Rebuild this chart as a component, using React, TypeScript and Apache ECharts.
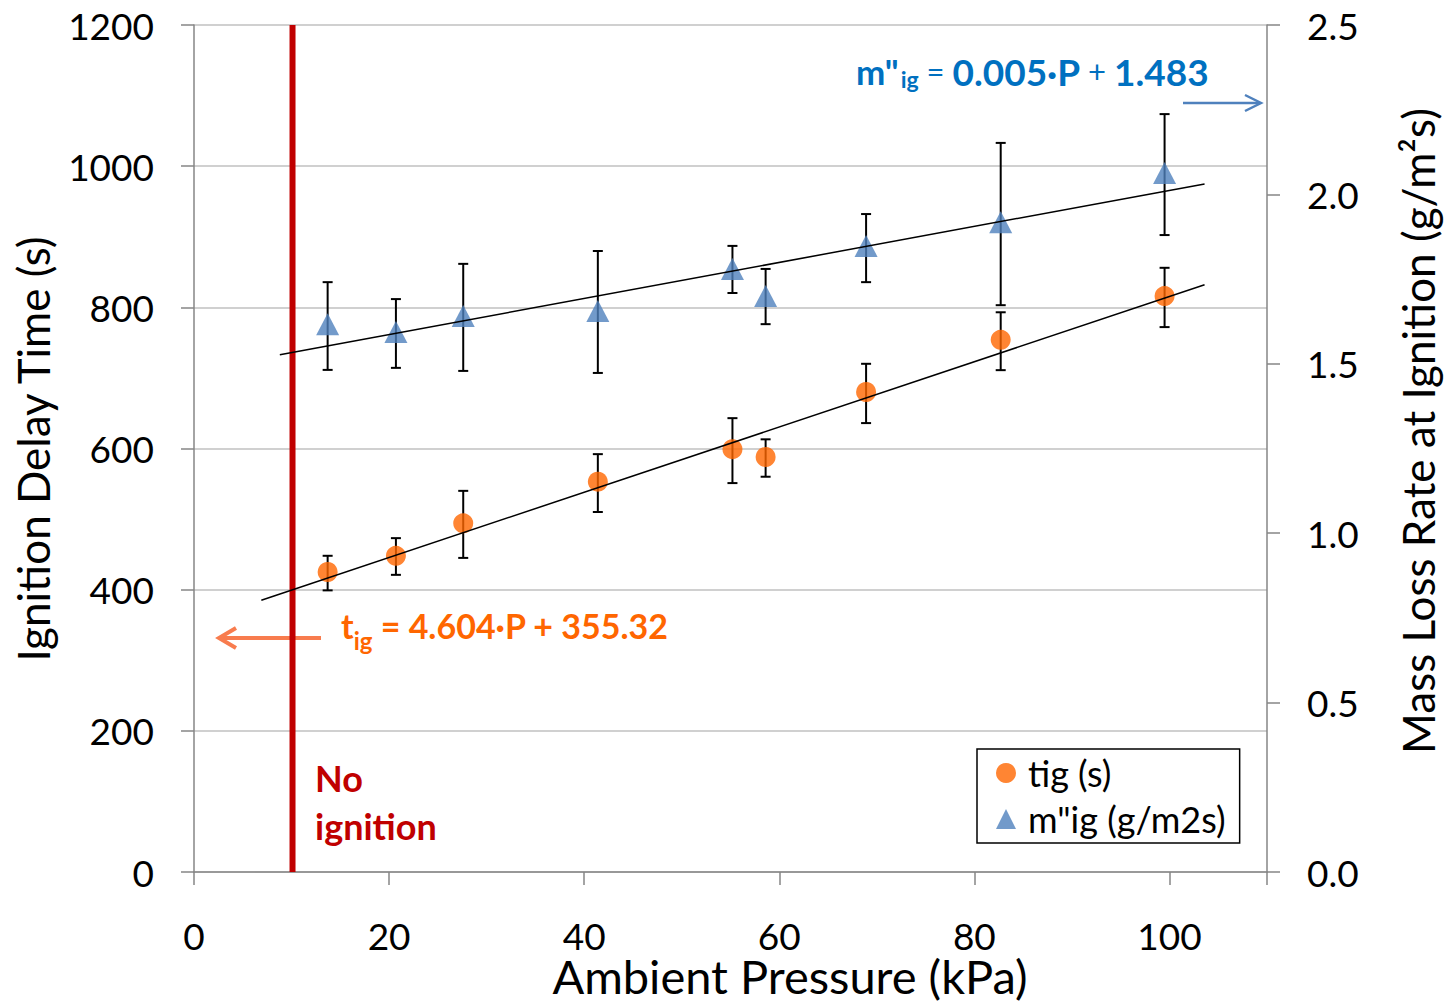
import React, { useEffect, useRef } from "react";
import * as echarts from "echarts";

// ---- data ----
const pressure = [13.7, 20.7, 27.6, 41.4, 55.2, 58.6, 68.9, 82.7, 99.5];
const tig = [425, 448, 494, 553, 599, 588, 680, 754, 816];
const tigLow = [399, 421, 445, 510, 551, 560, 636, 711, 772];
const tigHigh = [448, 473, 540, 592, 643, 613, 720, 793, 856];
const mig = [1.617, 1.594, 1.641, 1.656, 1.78, 1.7, 1.848, 1.918, 2.063];
const migLow = [1.482, 1.488, 1.479, 1.473, 1.709, 1.617, 1.741, 1.673, 1.88];
const migHigh = [1.741, 1.691, 1.795, 1.833, 1.848, 1.78, 1.942, 2.152, 2.237];
const tigTrendP = [6.9, 103.6];
const tigTrendV = [385, 832];
const migTrendP = [8.8, 103.6];
const migTrendV = [1.527, 2.031];
const noIgnitionP = [10.1, 10.1];
const noIgnitionV = [0, 1200];

const FONT = "Lato";

function errorBarRender(params: any, api: any) {
  const x = api.value(0);
  const lo = api.coord([x, api.value(1)]);
  const hi = api.coord([x, api.value(2)]);
  const w = 5;
  const st = { stroke: "#000", lineWidth: 2 };
  return {
    type: "group",
    children: [
      { type: "line", shape: { x1: lo[0], y1: lo[1], x2: hi[0], y2: hi[1] }, style: st },
      { type: "line", shape: { x1: lo[0] - w, y1: lo[1], x2: lo[0] + w, y2: lo[1] }, style: st },
      { type: "line", shape: { x1: hi[0] - w, y1: hi[1], x2: hi[0] + w, y2: hi[1] }, style: st },
    ],
  };
}

export default function App() {
  const ref = useRef<HTMLDivElement>(null);
  useEffect(() => {
    if (!ref.current) return;
    const chart = echarts.init(ref.current, undefined, { renderer: "svg" });
    const axisLineStyle = { color: "#868686", width: 1.5 };
    const option: any = {
      animation: false,
      backgroundColor: "#fff",
      grid: { left: 194, top: 25, right: 178, bottom: 129, containLabel: false },
      xAxis: {
        type: "value",
        min: 0,
        max: 110,
        interval: 20,
        axisLine: { show: true, lineStyle: axisLineStyle, onZero: false },
        axisTick: { show: true, length: 13, lineStyle: axisLineStyle },
        splitLine: { show: false },
        axisLabel: {
          margin: 45,
          fontFamily: FONT,
          fontSize: 37,
          color: "#000",
          formatter: (v: number) => (v > 100 ? "" : String(v)),
        },
      },
      yAxis: [
        {
          type: "value",
          min: 0,
          max: 1200,
          interval: 200,
          axisLine: { show: true, lineStyle: axisLineStyle },
          axisTick: { show: true, length: 13, lineStyle: axisLineStyle },
          splitLine: { show: true, lineStyle: { color: "#c0c0c0", width: 1.5 } },
          axisLabel: {
            margin: 40,
            fontFamily: FONT,
            fontSize: 37,
            color: "#000",
            formatter: (v: number) => String(v),
          },
        },
        {
          type: "value",
          min: 0,
          max: 2.5,
          interval: 0.5,
          position: "right",
          axisLine: { show: true, lineStyle: axisLineStyle },
          axisTick: { show: true, length: 13, lineStyle: axisLineStyle },
          splitLine: { show: false },
          axisLabel: {
            margin: 40,
            fontFamily: FONT,
            fontSize: 37,
            color: "#000",
            formatter: (v: number) => v.toFixed(1),
          },
        },
      ],
      legend: {
        data: [
          { name: "tig (s)", icon: "circle" },
          { name: 'm"ig (g/m2s)', icon: "triangle" },
        ],
        orient: "vertical",
        left: 977,
        top: 749,
        borderColor: "#000",
        borderWidth: 1.5,
        backgroundColor: "#fff",
        padding: [6, 14, 6, 19],
        itemWidth: 20,
        itemHeight: 20,
        itemGap: 10,
        textStyle: { fontFamily: FONT, fontSize: 36, color: "#000", padding: [0, 0, 0, 7] },
      },
      series: [
        {
          type: "custom",
          name: "tigErr",
          yAxisIndex: 0,
          renderItem: errorBarRender,
          data: pressure.map((p, i) => [p, tigLow[i], tigHigh[i]]),
          encode: { x: 0, y: [1, 2] },
          z: 1,
          silent: true,
        },
        {
          type: "custom",
          name: "migErr",
          yAxisIndex: 1,
          renderItem: errorBarRender,
          data: pressure.map((p, i) => [p, migLow[i], migHigh[i]]),
          encode: { x: 0, y: [1, 2] },
          z: 1,
          silent: true,
        },
        {
          type: "line",
          name: "noIgnition",
          yAxisIndex: 0,
          data: noIgnitionP.map((p, i) => [p, noIgnitionV[i]]),
          showSymbol: false,
          lineStyle: { color: "#C00000", width: 6 },
          z: 2,
        },
        {
          type: "scatter",
          name: "tig (s)",
          yAxisIndex: 0,
          data: pressure.map((p, i) => [p, tig[i]]),
          symbol: "circle",
          symbolSize: 20,
          itemStyle: { color: "#FF6600" },
          z: 3,
        },
        {
          type: "scatter",
          name: 'm"ig (g/m2s)',
          yAxisIndex: 1,
          data: pressure.map((p, i) => [p, mig[i]]),
          symbol: "triangle",
          symbolSize: [23, 22],
          itemStyle: { color: "#4F81BD" },
          z: 3,
        },
        {
          type: "line",
          name: "tigTrend",
          yAxisIndex: 0,
          data: tigTrendP.map((p, i) => [p, tigTrendV[i]]),
          showSymbol: false,
          lineStyle: { color: "#000", width: 1.5 },
          z: 4,
        },
        {
          type: "line",
          name: "migTrend",
          yAxisIndex: 1,
          data: migTrendP.map((p, i) => [p, migTrendV[i]]),
          showSymbol: false,
          lineStyle: { color: "#000", width: 1.5 },
          z: 4,
        },
      ],
      graphic: [
        {
          type: "text",
          x: 790,
          y: 976,
          style: {
            text: "Ambient Pressure (kPa)",
            fontFamily: FONT,
            fontSize: 47,
            fill: "#000",
            textAlign: "center",
            textVerticalAlign: "middle",
          },
        },
        {
          type: "text",
          x: 33,
          y: 449,
          rotation: Math.PI / 2,
          style: {
            text: "Ignition Delay Time (s)",
            fontFamily: FONT,
            fontSize: 44,
            fill: "#000",
            textAlign: "center",
            textVerticalAlign: "middle",
          },
        },
        {
          type: "text",
          x: 1418,
          y: 431,
          rotation: Math.PI / 2,
          style: {
            text: "Mass Loss Rate at Ignition (g/m²s)",
            fontFamily: FONT,
            fontSize: 44,
            fill: "#000",
            textAlign: "center",
            textVerticalAlign: "middle",
          },
        },
        {
          type: "text",
          x: 315,
          y: 754,
          style: {
            text: "No\nignition",
            fontFamily: FONT,
            fontWeight: "bold",
            fontSize: 36,
            lineHeight: 48,
            fill: "#C00000",
            textAlign: "left",
            textVerticalAlign: "top",
          },
        },
        {
          type: "text",
          x: 856,
          y: 71,
          style: {
            text: '{m|m"}{sub|ig}{eq| = }{b|0.005·P}{eq| + }{b|1.483}',
            textAlign: "left",
            textVerticalAlign: "middle",
            fill: "#0070C0",
            rich: {
              m: { fontFamily: FONT, fontWeight: "bold", fontSize: 35, fill: "#0070C0" },
              sub: { fontFamily: FONT, fontWeight: "bold", fontSize: 23, fill: "#0070C0", padding: [16, 0, 0, 2] },
              eq: { fontFamily: FONT, fontSize: 31, fill: "#0070C0" },
              b: { fontFamily: FONT, fontWeight: "bold", fontSize: 37, fill: "#0070C0" },
            },
          },
        },
        {
          type: "text",
          x: 341,
          y: 625,
          style: {
            text: "{m|t}{sub|ig}{b| = 4.604·P + 355.32}",
            textAlign: "left",
            textVerticalAlign: "middle",
            fill: "#FF6600",
            rich: {
              m: { fontFamily: FONT, fontWeight: "bold", fontSize: 34, fill: "#FF6600" },
              sub: { fontFamily: FONT, fontWeight: "bold", fontSize: 24, fill: "#FF6600", padding: [30, 0, 0, 0] },
              b: { fontFamily: FONT, fontWeight: "bold", fontSize: 34, fill: "#FF6600" },
            },
          },
        },
        {
          type: "line",
          shape: { x1: 1183, y1: 103, x2: 1260, y2: 103 },
          style: { stroke: "#4F81BD", lineWidth: 2.5 },
        },
        {
          type: "polyline",
          shape: { points: [[1245, 95], [1261, 103], [1245, 111]] },
          style: { stroke: "#4F81BD", lineWidth: 2.5, fill: null },
        },
        {
          type: "line",
          shape: { x1: 321, y1: 638, x2: 219, y2: 638 },
          style: { stroke: "#F87C4E", lineWidth: 4 },
        },
        {
          type: "polyline",
          shape: { points: [[236, 628], [219, 638], [236, 648]] },
          style: { stroke: "#F87C4E", lineWidth: 4, fill: null },
        },
      ],
    };
    chart.setOption(option);
    return () => chart.dispose();
  }, []);
  return <div ref={ref} style={{ width: 1445, height: 1001, position: "absolute", left: 0, top: 0 }} />;
}
